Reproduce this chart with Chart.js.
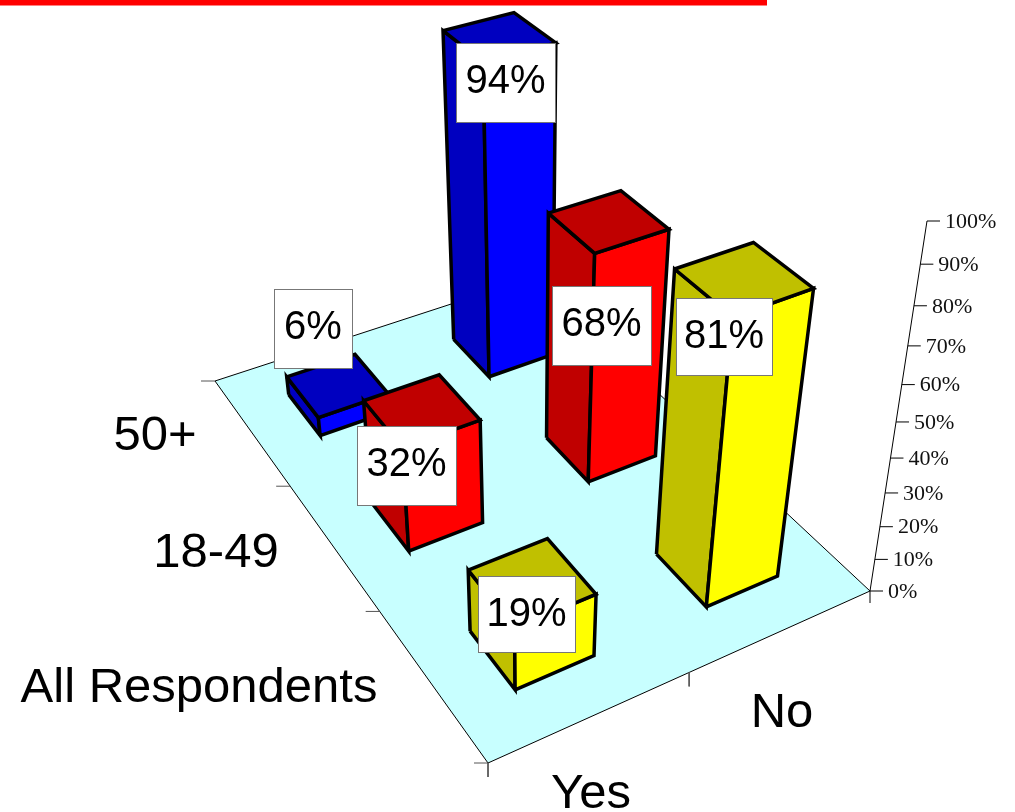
<!DOCTYPE html>
<html>
<head>
<meta charset="utf-8">
<style>
  html, body { margin: 0; padding: 0; background: #fff; }
  canvas { display: block; }
</style>
<script src="https://cdn.jsdelivr.net/npm/chart.js@4"></script>
</head>
<body>
<canvas id="myChart" width="1015" height="812"></canvas>
<script>
// data
var rowLabels = ['All Respondents', '18-49', '50+'];
var colLabels = ['Yes', 'No'];
var yesValues = [19, 32, 6];
var noValues = [81, 68, 94];
var tickValues = [0, 10, 20, 30, 40, 50, 60, 70, 80, 90, 100];
var tickLabels = ['0%', '10%', '20%', '30%', '40%', '50%', '60%', '70%', '80%', '90%', '100%'];

// bar colours per row: side/top, front
var darkColors = ['#c0c000', '#c00000', '#0000c0'];
var lightColors = ['#ffff00', '#ff0000', '#0000ff'];
var floorColor = '#c8ffff';

// label boxes: left, top, width, height for [row][col]
var yesBoxes = [[478, 576, 97, 76], [357, 426, 99, 79], [274, 289, 78, 79]];
var noBoxes = [[676, 298, 96, 77], [552, 286, 99, 79], [456, 43, 99, 79]];

// camera: floor corners on screen and vanishing point of the verticals
var B = [488, 763], C = [870, 591], D = [534, 277], A = [215, 381];
var V = [530, 2550];
var axisTopX = 927, axisTopY = 221;

function makeCamera() {
  var dx1 = C[0] - D[0], dx2 = A[0] - D[0], sx = B[0] - C[0] + D[0] - A[0];
  var dy1 = C[1] - D[1], dy2 = A[1] - D[1], sy = B[1] - C[1] + D[1] - A[1];
  var den = dx1 * dy2 - dx2 * dy1;
  var g = (sx * dy2 - dx2 * sy) / den;
  var h = (dx1 * sy - sx * dy1) / den;
  var a = C[0] - B[0] + g * C[0], b = A[0] - B[0] + h * A[0];
  var d = C[1] - B[1] + g * C[1], e = A[1] - B[1] + h * A[1];
  // height column: scaled so 100% lands on the top of the axis
  var lam = (axisTopY * (1 + g) - (d + B[1])) / (V[1] - axisTopY);
  return function (u, v, pct) {
    var t = lam * pct / 100;
    var w = g * u + h * v + 1 + t;
    return {
      x: (a * u + b * v + B[0] + t * V[0]) / w,
      y: (d * u + e * v + B[1] + t * V[1]) / w
    };
  };
}
var project = makeCamera();

// the value axis leans a little less than the bars do
function axisPoint(val) {
  var y = project(1, 0, val).y;
  return { x: C[0] + (C[1] - y) * (axisTopX - C[0]) / (C[1] - axisTopY), y: y };
}

var datasets = [];
function addShape(points, fillColor, lineColor, lineWidth) {
  datasets.push({
    type: 'scatter',
    data: points,
    showLine: true,
    fill: fillColor ? 'shape' : false,
    backgroundColor: fillColor || 'transparent',
    borderColor: lineColor,
    borderWidth: lineWidth,
    borderJoinStyle: 'miter',
    pointRadius: 0,
    tension: 0
  });
}

// floor and its edges
var pA = project(0, 1, 0), pB = project(0, 0, 0), pC = project(1, 0, 0), pD = project(1, 1, 0);
addShape([pA, pB, pC, pD, pA], floorColor, '#000', 1);

// ticks on the floor
[0, 1, 2, 3].forEach(function (i) {
  var p = project(0, i / 3, 0);
  addShape([{ x: p.x - 14, y: p.y }, p], null, '#555', 1);
});
[0, 1].forEach(function (i) {
  var p = project(i / 2, 0, 0);
  addShape([p, { x: p.x, y: p.y + 14 }], null, '#555', 1);
});

// value axis
addShape([{ x: C[0], y: C[1] + 12 }, { x: C[0], y: C[1] }, axisPoint(100)], null, '#000', 1);
tickValues.forEach(function (val) {
  var p = axisPoint(val);
  addShape([p, { x: p.x + 13, y: p.y }], null, '#000', 1);
});

// bars, back to front
function addBar(row, col, val) {
  var u0 = (col + 0.3) / 2 - 0.002, u1 = (col + 0.7) / 2 - 0.002;
  var v0 = (row + 0.3) / 3 - 0.004, v1 = (row + 0.7) / 3 - 0.004;
  var dark = darkColors[row], light = lightColors[row];
  var fb = project(u0, v0, 0), rb = project(u1, v0, 0), lb = project(u0, v1, 0);
  var ft = project(u0, v0, val), rt = project(u1, v0, val), lt = project(u0, v1, val), bt = project(u1, v1, val);
  addShape([lb, fb, ft, lt, lb], dark, '#000', 3.5);
  addShape([fb, rb, rt, ft, fb], light, '#000', 3.5);
  addShape([lt, ft, rt, bt, lt], dark, '#000', 3.5);
}
for (var r = rowLabels.length - 1; r >= 0; r--) {
  addBar(r, 0, yesValues[r]);
  addBar(r, 1, noValues[r]);
}

// chart.js paints dataset 0 last, so flip to keep the painter's order
datasets.reverse();

var textPlugin = {
  id: 'textPlugin',
  afterDatasetsDraw: function (chart) {
    var ctx = chart.ctx, sx = chart.scales.x, sy = chart.scales.y;
    ctx.save();

    // red rule along the top
    ctx.fillStyle = '#ff0000';
    ctx.fillRect(0, 0, sx.getPixelForValue(767), sy.getPixelForValue(5.5));

    // value axis labels
    ctx.fillStyle = '#111';
    ctx.font = '22px "Liberation Serif"';
    ctx.textAlign = 'left';
    ctx.textBaseline = 'middle';
    tickValues.forEach(function (val, i) {
      var p = axisPoint(val);
      ctx.fillText(tickLabels[i], sx.getPixelForValue(p.x + 18), sy.getPixelForValue(p.y + 1));
    });

    // category labels
    ctx.fillStyle = '#000';
    ctx.font = '49px "Liberation Sans"';
    ctx.textAlign = 'center';
    ctx.textBaseline = 'alphabetic';
    ctx.fillText(rowLabels[2], 155, 450);
    ctx.fillText(rowLabels[1], 216, 567);
    ctx.fillText(rowLabels[0], 199, 702);
    ctx.fillText(colLabels[1], 782, 727);
    ctx.fillText(colLabels[0], 591, 808);

    // value boxes
    function drawBox(box, val) {
      ctx.fillStyle = '#fff';
      ctx.fillRect(box[0], box[1], box[2], box[3]);
      ctx.strokeStyle = '#777';
      ctx.lineWidth = 1;
      ctx.strokeRect(box[0] + 0.5, box[1] + 0.5, box[2], box[3]);
      ctx.fillStyle = '#000';
      ctx.font = '40px "Liberation Sans"';
      ctx.fillText(val + '%', box[0] + box[2] / 2, box[1] + 50);
    }
    rowLabels.forEach(function (name, r) {
      drawBox(yesBoxes[r], yesValues[r]);
      drawBox(noBoxes[r], noValues[r]);
    });
    ctx.restore();
  }
};

var ctx = document.getElementById('myChart').getContext('2d');
var myChart = new Chart(ctx, {
  type: 'scatter',
  data: { datasets: datasets },
  plugins: [textPlugin],
  options: {
    responsive: false,
    animation: false,
    layout: { padding: 0 },
    plugins: { legend: { display: false }, tooltip: { enabled: false } },
    scales: {
      x: { type: 'linear', display: false, min: 0, max: 1015 },
      y: { type: 'linear', display: false, min: 0, max: 812, reverse: true }
    }
  }
});
</script>
</body>
</html>
